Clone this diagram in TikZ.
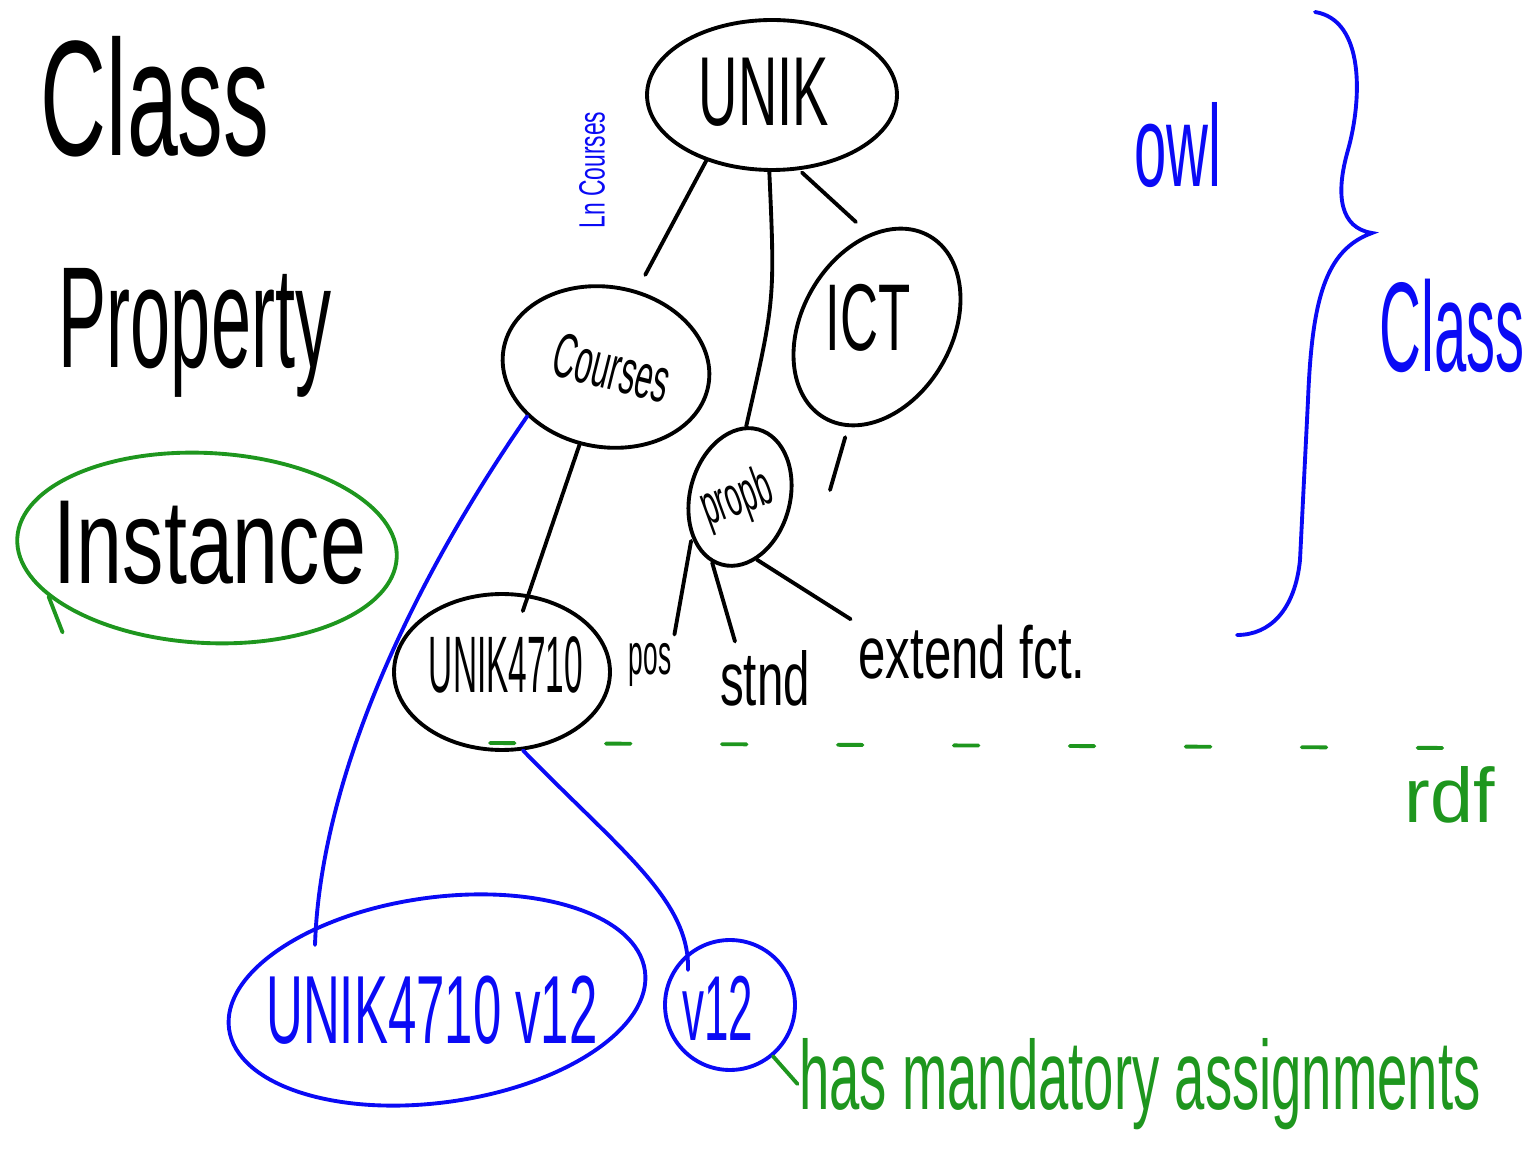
\documentclass[tikz,border=0pt]{standalone}
\usepackage{fontspec}
\setmainfont{Liberation Sans}
\usetikzlibrary{shapes.geometric,calc,positioning}
\definecolor{penblue}{RGB}{10,10,245}
\definecolor{pengreen}{RGB}{30,150,30}
\newcommand{\tall}[2]{\scalebox{1}[#1]{#2}}

\begin{document}
\begin{tikzpicture}
		[x=0.02cm,y=-0.02cm,line width=2.2pt,line cap=round,
			every node/.style={inner sep=0pt},
			bubble/.style={shape=ellipse,draw,line width=2.2pt},
			fsize/.style={font=\fontsize{#1}{#1}\selectfont}]
		\useasboundingbox (0,0) rectangle (1539,1151);
		% legend on the left
		\node[fsize=52] (lclass) at (155,97) {\tall{1.8}{Class}};
		\node[fsize=41] (lprop) at (195,333) {\tall{2}{Property}};
		\node[bubble,draw=pengreen,minimum width=7.6cm,minimum height=3.8cm,rotate=-3] (inst) at (207,548) {};
		\node[fsize=47] (instt) at (210,543) {\tall{1.45}{Instance}};
		\draw[pengreen] (inst.200) -- ++(14,36);
		% class tree
		\node[bubble,minimum width=5cm,minimum height=3cm] (unik) at (772,95) {};
		\node[fsize=31] (unikt) at (764,92) {\tall{1.8}{UNIK}};
		\node[bubble,minimum width=4.16cm,minimum height=3.2cm,rotate=-10] (courses) at (606,367) {};
		\node[fsize=18,rotate=-14] (coursest) at (612,368) {\tall{2}{Courses}};
		\node[bubble,minimum width=3cm,minimum height=4.2cm,rotate=-30] (ict) at (877,327) {};
		\node[fsize=30] (ictt) at (868,318) {\tall{1.8}{ICT}};
		\node[bubble,minimum width=2cm,minimum height=2.8cm,rotate=-15] (propb) at (740,497) {};
		\node[fsize=16,rotate=20] (propbt) at (737,500) {\tall{2}{propb}};
		\node[bubble,minimum width=4.32cm,minimum height=3.12cm] (u4710) at (502,672) {};
		\node[fsize=19] (u4710t) at (506,665) {\tall{2.4}{UNIK4710}};
		\node[fsize=15] (pos) at (650,665) {\tall{2.2}{pos}};
		\node[fsize=27] (stnd) at (765,678) {\tall{1.6}{stnd}};
		\node[fsize=28] (ext) at (972,652) {\tall{1.5}{extend fct.}};
		\node[penblue,fsize=13,rotate=90] (note) at (592,170) {\tall{1.6}{Ln Courses}};
		\coordinate (ictend) at (830,490);
		\draw[shorten >=10pt] (unik.225) -- (courses.78);
		\draw (unik.268) .. controls (775,300) .. (propb.100);
		\draw[shorten <=2pt,shorten >=10pt] (unik.290) -- (ict.125);
		\draw[shorten >=-10pt] (courses) -- (u4710);
		\draw[shorten <=6pt] (ict) -- (ictend);
		\draw[shorten <=2pt,shorten >=4pt] (propb.235) -- (pos.north east);
		\draw[shorten >=4pt] (propb.262) -- ($(stnd.north west)!0.4!(stnd.north)$);
		\draw[shorten >=4pt] (propb.300) -- (ext.north west);
		% owl / rdf
		\node[penblue,fsize=33] (owl) at (1178,145) {\tall{2}{owl}};
		\node[penblue,fsize=33] (rclass) at (1452,326) {\tall{2.2}{Class}};
		\draw[penblue] (1315,12) .. controls (1365,20) and (1362,100) .. (1348,150)
			.. controls (1335,195) and (1340,228) .. (1372,233)
			.. controls (1325,250) and (1312,300) .. (1308,400) -- (1300,560)
			.. controls (1295,610) and (1270,635) .. (1237,635);
		\draw[pengreen,dash pattern=on 14pt off 52pt] (490,743) -- (1450,748);
		\node[pengreen,fsize=44] (rdf) at (1450,795) {rdf};
		% instances
		\node[bubble,draw=penblue,minimum width=8.4cm,minimum height=4.1cm,rotate=8] (uv12) at (437,1000) {};
		\node[penblue,fsize=29] (uv12t) at (432,1010) {\tall{1.9}{UNIK4710 v12}};
		\node[bubble,draw=penblue,minimum size=2.6cm] (v12) at (730,1005) {};
		\node[penblue,fsize=25] (v12t) at (718,1008) {\tall{2.1}{v12}};
		\node[pengreen,fsize=31] (mand) at (1140,1084) {\tall{1.8}{has mandatory assignments}};
		\draw[penblue] (courses.222) .. controls (400,600) and (320,790) .. ($(uv12.center)+(-122,-55)$);
		\draw[penblue] (u4710.285) .. controls (620,850) and (690,900) .. ($(v12.center)+(-42,-35)$);
		\draw[pengreen] (v12.-50) -- (mand.west);
\end{tikzpicture}
\end{document}
